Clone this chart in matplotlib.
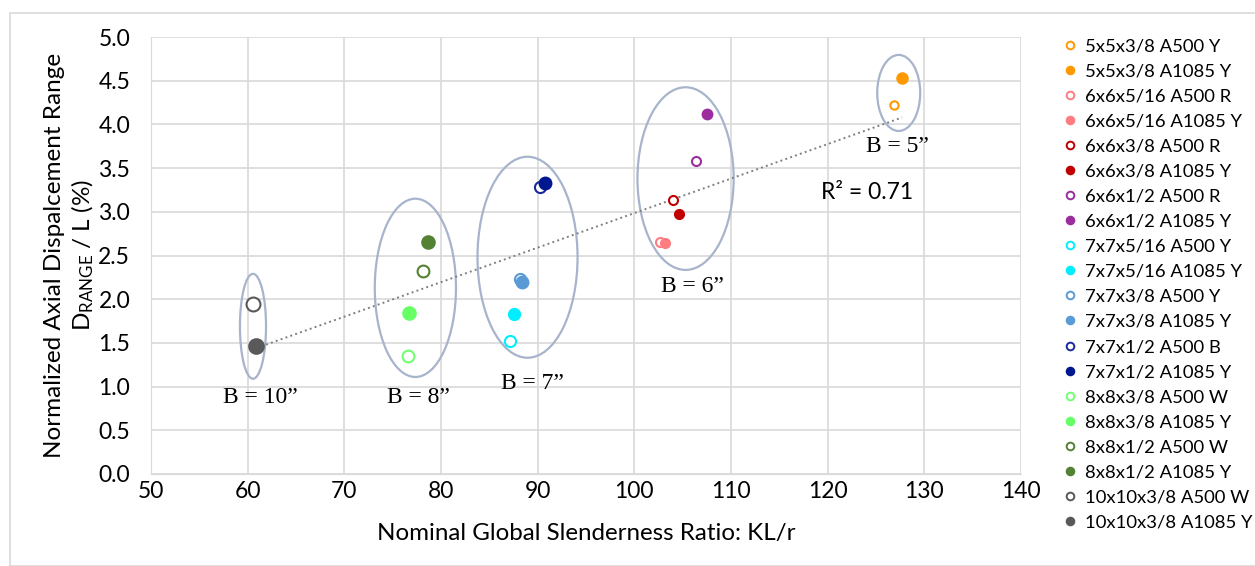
import numpy as np
import matplotlib
matplotlib.use("Agg")
import matplotlib.pyplot as plt
from matplotlib.patches import Ellipse, Rectangle
from matplotlib.lines import Line2D

plt.rcParams['font.family'] = ['Lato', 'DejaVu Sans']
plt.rcParams['mathtext.default'] = 'regular'

# series data
labels = ['5x5x3/8 A500 Y', '5x5x3/8 A1085 Y', '6x6x5/16 A500 R', '6x6x5/16 A1085 Y',
          '6x6x3/8 A500 R', '6x6x3/8 A1085 Y', '6x6x1/2 A500 R', '6x6x1/2 A1085 Y',
          '7x7x5/16 A500 Y', '7x7x5/16 A1085 Y', '7x7x3/8 A500 Y', '7x7x3/8 A1085 Y',
          '7x7x1/2 A500 B', '7x7x1/2 A1085 Y', '8x8x3/8 A500 W', '8x8x3/8 A1085 Y',
          '8x8x1/2 A500 W', '8x8x1/2 A1085 Y', '10x10x3/8 A500 W', '10x10x3/8 A1085 Y']
kl_r = [126.9, 127.7, 102.7, 103.2, 104.0, 104.6, 106.4, 107.5,
        87.1, 87.5, 88.2, 88.4, 90.2, 90.8, 76.6, 76.7, 78.1, 78.7, 60.6, 60.9]
d_range = [4.22, 4.53, 2.65, 2.64, 3.14, 2.97, 3.58, 4.12,
           1.52, 1.83, 2.23, 2.20, 3.28, 3.33, 1.35, 1.84, 2.32, 2.66, 1.94, 1.46]
colors = ['#ff9900', '#ff9900', '#ff7c80', '#ff7c80', '#c00000', '#c00000', '#9b2d9f', '#9b2d9f',
          '#00eeff', '#00eeff', '#5b9bd5', '#5b9bd5', '#1a2a9c', '#00188f', '#70ff70', '#66ff66',
          '#548235', '#548235', '#595959', '#595959']
filled = [False, True] * 10
msize = [6, 7.5, 6.5, 6.5, 6.5, 6.5, 6.5, 7, 8, 8, 8, 8.5, 8, 8.5, 8.5, 9, 8.5, 9, 10, 10.5]

# linear trend as shown in the reference (x range, slope, intercept, R^2 label)
trend_x = [60.9, 127.7]
trend_slope = 0.0395
trend_icpt = -0.965
r2_text = 'R\u00b2 = 0.71'

# section groups: label, ellipse centre/size, label position
groups = ['B = 10\u201d', 'B = 8\u201d', 'B = 7\u201d', 'B = 6\u201d', 'B = 5\u201d']
ell_xy = [(60.55, 1.69), (77.35, 2.13), (88.95, 2.48), (105.3, 3.38), (127.35, 4.36)]
ell_wh = [(2.7, 1.20), (8.4, 2.04), (10.35, 2.30), (9.95, 2.09), (4.45, 0.87)]
grp_txt = [(61.3, 0.87), (77.65, 0.87), (89.5, 1.04), (106.0, 2.15), (127.2, 3.75)]

fig = plt.figure(figsize=(12.55, 5.66), dpi=100)
fig.patches.append(Rectangle((10 / 1255, 0), 1.2, 1 - 13 / 566, transform=fig.transFigure,
                             fill=False, edgecolor='#d9d9d9', linewidth=1.2))
ax = fig.add_axes([151 / 1255, 1 - 474 / 566, 870 / 1255, 437 / 566])

for x, y, c, f, s in zip(kl_r, d_range, colors, filled, msize):
    ax.plot(x, y, 'o', ms=s, mfc=c if f else 'white', mec=c, mew=1.5, zorder=4)

xx = np.array(trend_x)
ax.plot(xx, trend_slope * xx + trend_icpt, ls=':', color='#808080', lw=1.4, zorder=3)

for (ex, ey), (ew, eh), (tx, ty), g in zip(ell_xy, ell_wh, grp_txt, groups):
    ax.add_patch(Ellipse((ex, ey), ew, eh, fill=False, edgecolor='#a7b4cc', lw=1.6, zorder=2))
    ax.text(tx, ty, g, ha='center', va='center', fontsize=17, family='Liberation Serif')
ax.text(124.05, 3.22, r2_text, ha='center', va='center', fontsize=16.5)

ax.set_xlim(50, 140)
ax.set_ylim(0, 5)
ax.set_xticks(np.arange(50, 141, 10))
ax.set_yticks(np.arange(0, 5.01, 0.5))
ax.yaxis.set_major_formatter(matplotlib.ticker.FormatStrFormatter('%.1f'))
ax.grid(True, color='#d9d9d9', lw=1.2)
ax.set_axisbelow(True)
for sp in ['top', 'right']:
    ax.spines[sp].set_visible(False)
for sp in ['left', 'bottom']:
    ax.spines[sp].set_color('#d9d9d9')
ax.tick_params(length=0, labelsize=16.5)
ax.tick_params(axis='y', pad=15)
ax.tick_params(axis='x', pad=5)
ax.set_xlabel('Nominal Global Slenderness Ratio: KL/r', fontsize=17.4, labelpad=15)
ax.set_ylabel('Normalized Axial Dispalcement Range\n$D_{RANGE}$ / L (%)', fontsize=17.5,
              labelpad=2, linespacing=1.2)

handles = [Line2D([], [], marker='o', ls='', ms=5.5, mfc=c if f else 'white', mec=c, mew=1.4)
           for c, f in zip(colors, filled)]
fig.legend(handles, labels, loc='upper left', bbox_to_anchor=(1052 / 1255, 1 - 31 / 566),
           frameon=False, fontsize=13.3, handletextpad=0.2, labelspacing=0.49,
           handlelength=1.2, borderaxespad=0)

fig.savefig('out.png', dpi=100)
